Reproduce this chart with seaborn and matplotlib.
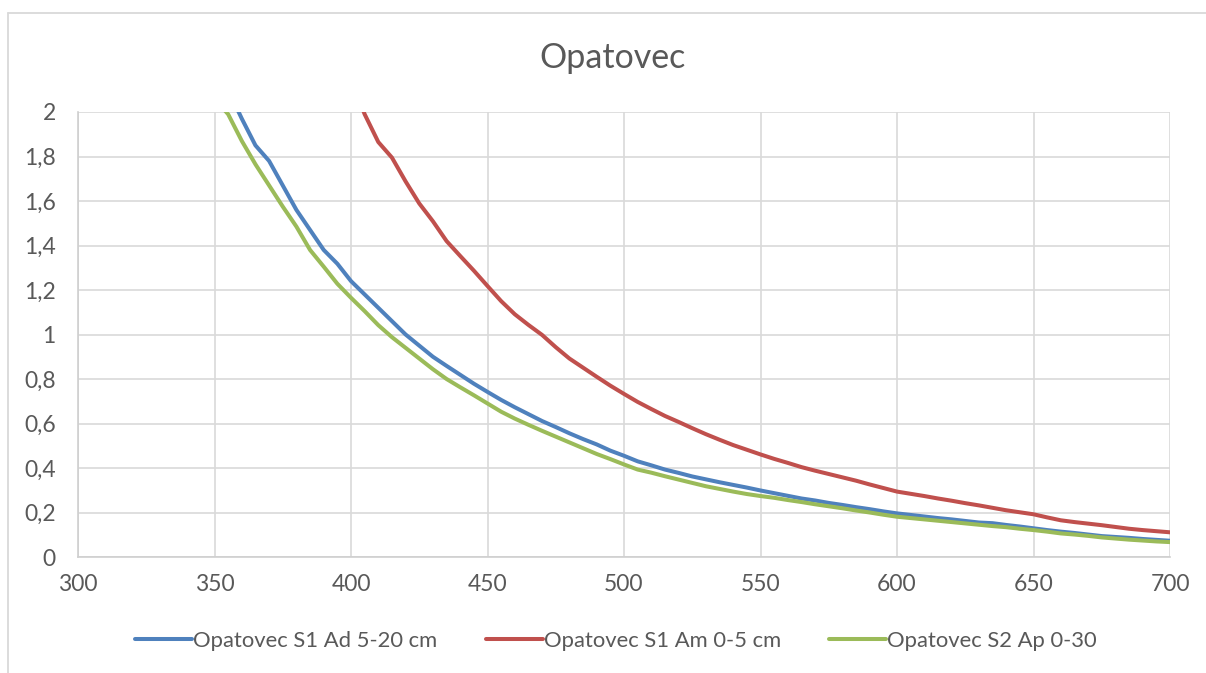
import numpy as np
import pandas as pd
import matplotlib
matplotlib.use("Agg")
import matplotlib.pyplot as plt
from matplotlib.lines import Line2D
from matplotlib.ticker import FuncFormatter, MultipleLocator
import seaborn as sns

# Wavelength grid (nm)
wavelength = list(range(350, 705, 5))

# Absorbance readings per sample (NaN where the curve is off the scale)
s1_ad = [np.nan, 2.10, 1.97, 1.85, 1.78, 1.67, 1.56, 1.47, 1.38, 1.318,
         1.24, 1.18, 1.12, 1.06, 1.00, 0.95, 0.90, 0.859, 0.819, 0.779,
         0.742, 0.706, 0.673, 0.642, 0.611, 0.584, 0.556, 0.530, 0.506, 0.478,
         0.455, 0.430, 0.412, 0.393, 0.378, 0.362, 0.349, 0.336, 0.324, 0.312,
         0.299, 0.287, 0.275, 0.263, 0.254, 0.243, 0.234, 0.224, 0.215, 0.205,
         0.196, 0.189, 0.182, 0.175, 0.169, 0.162, 0.155, 0.152, 0.144, 0.137,
         0.129, 0.121, 0.114, 0.108, 0.101, 0.094, 0.090, 0.086, 0.081, 0.077,
         0.073]

s1_am = [np.nan, np.nan, np.nan, np.nan, np.nan, np.nan, np.nan, np.nan, np.nan, np.nan,
         2.15, 1.99, 1.865, 1.795, 1.688, 1.589, 1.509, 1.42, 1.353, 1.287,
         1.218, 1.15, 1.091, 1.043, 0.998, 0.943, 0.892, 0.851, 0.81, 0.770,
         0.733, 0.697, 0.665, 0.634, 0.607, 0.579, 0.552, 0.527, 0.503, 0.482,
         0.461, 0.441, 0.423, 0.404, 0.388, 0.373, 0.358, 0.343, 0.326, 0.310,
         0.294, 0.284, 0.274, 0.263, 0.253, 0.242, 0.232, 0.221, 0.210, 0.201,
         0.192, 0.178, 0.165, 0.157, 0.150, 0.143, 0.135, 0.127, 0.121, 0.116,
         0.111]

s2_ap = [2.06, 1.99, 1.87, 1.765, 1.67, 1.575, 1.485, 1.38, 1.305, 1.228,
         1.165, 1.105, 1.042, 0.988, 0.94, 0.892, 0.844, 0.800, 0.763, 0.727,
         0.690, 0.653, 0.622, 0.594, 0.567, 0.541, 0.515, 0.489, 0.463, 0.44,
         0.416, 0.393, 0.379, 0.363, 0.348, 0.333, 0.318, 0.306, 0.294, 0.283,
         0.274, 0.266, 0.256, 0.247, 0.237, 0.228, 0.219, 0.209, 0.200, 0.190,
         0.181, 0.175, 0.169, 0.163, 0.157, 0.151, 0.145, 0.139, 0.134, 0.127,
         0.121, 0.114, 0.106, 0.101, 0.095, 0.088, 0.083, 0.078, 0.074, 0.070,
         0.067]

series_names = ["Opatovec S1 Ad 5-20 cm", "Opatovec S1 Am 0-5 cm", "Opatovec S2 Ap 0-30"]
series_colors = ["#4F81BD", "#C0504D", "#9BBB59"]

frames = []
for name, vals in zip(series_names, [s1_ad, s1_am, s2_ap]):
    frames.append(pd.DataFrame({"nm": wavelength, "A": vals, "sample": name}))
df = pd.concat(frames, ignore_index=True).dropna()

sns.set_theme(style="white")
plt.rcParams["font.family"] = ["Lato", "DejaVu Sans"]

fig = plt.figure(figsize=(12.06, 6.73), dpi=100)
ax = fig.add_axes([78 / 1206, 1 - 557 / 673, (1170 - 78) / 1206, (557 - 112) / 673])

sns.lineplot(data=df, x="nm", y="A", hue="sample", hue_order=series_names,
             palette=series_colors, linewidth=2.9, ax=ax, legend=False,
             sort=True, estimator=None)
for ln in ax.lines:
    ln.set_solid_capstyle("round")
    ln.set_solid_joinstyle("round")

ax.set_xlim(300, 700)
ax.set_ylim(0, 2)
ax.xaxis.set_major_locator(MultipleLocator(50))
ax.yaxis.set_major_locator(MultipleLocator(0.2))
ax.yaxis.set_major_formatter(FuncFormatter(
    lambda v, p: ("%g" % round(v, 1)).replace(".", ",")))
ax.set_xlabel("")
ax.set_ylabel("")

grid_col = "#D9D9D9"
ax.grid(True, color=grid_col, linewidth=1.2)
ax.set_axisbelow(True)
for side in ["top", "right"]:
    ax.spines[side].set_visible(False)
for side in ["left", "bottom"]:
    ax.spines[side].set_color("#CFCFCF")
    ax.spines[side].set_linewidth(1.2)

ax.tick_params(axis="both", length=0, labelsize=16.5, colors="#595959")
ax.tick_params(axis="y", pad=16)
ax.tick_params(axis="x", pad=12)

fig.text(613 / 1206, 1 - 58 / 673, "Opatovec", ha="center", va="center",
         fontsize=24.5, color="#595959")

handles = [Line2D([0], [0], color=c, linewidth=2.9) for c in series_colors]
fig.legend(handles, series_names, loc="center", ncol=3,
           bbox_to_anchor=(616 / 1206, 1 - 641 / 673), frameon=False,
           fontsize=15.8, labelcolor="#595959", handlelength=2.6,
           handletextpad=0.05, columnspacing=2.2)

# Outer chart frame (left and top edges)
frame_kw = dict(color="#D9D9D9", linewidth=1.3, transform=fig.transFigure)
fig.add_artist(Line2D([8 / 1206, 8 / 1206], [0, 1 - 13 / 673], **frame_kw))
fig.add_artist(Line2D([8 / 1206, 1], [1 - 13 / 673, 1 - 13 / 673], **frame_kw))

fig.savefig("out.png", dpi=100)
